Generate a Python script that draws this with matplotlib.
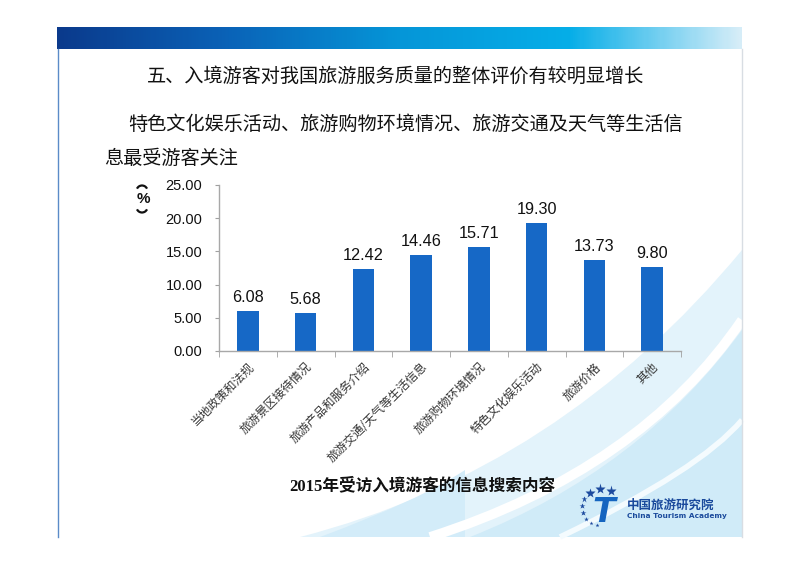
import numpy as np
import matplotlib.pyplot as plt
import matplotlib.transforms as mtransforms
from matplotlib.colors import LinearSegmentedColormap
from matplotlib.path import Path
from matplotlib.patches import PathPatch, Arc

plt.rcParams['font.family'] = ['Noto Sans CJK SC', 'DejaVu Sans']

# chart data
categories = ['当地政策和法规', '旅游景区接待情况', '旅游产品和服务介绍', '旅游交通/天气等生活信息',
              '旅游购物环境情况', '特色文化娱乐活动', '旅游价格', '其他']
bar_heights = [6.08, 5.68, 12.42, 14.46, 15.71, 19.30, 13.73, 12.65]
value_labels = ['6.08', '5.68', '12.42', '14.46', '15.71', '19.30', '13.73', '9.80']
y_ticks = [0, 5, 10, 15, 20, 25]

title = '五、入境游客对我国旅游服务质量的整体评价有较明显增长'
sub1 = '特色文化娱乐活动、旅游购物环境情况、旅游交通及天气等生活信'
sub2 = '息最受游客关注'
caption = '2015年受访入境游客的信息搜索内容'

W, H = 800, 565
fig = plt.figure(figsize=(W / 100, H / 100), dpi=100)

# --- slide background, in pixel coordinates ---
bg = fig.add_axes([0, 0, 1, 1])
bg.set_xlim(0, W)
bg.set_ylim(H, 0)
bg.axis('off')

band_cmap = LinearSegmentedColormap.from_list(
    'band', ['#0b3a8c', '#0a63b8', '#0596d8', '#06aee8', '#d6edf8'])
grad = np.linspace(0, 1, 300).reshape(1, -1)
bg.imshow(grad, cmap=band_cmap, extent=(57, 742, 49, 27), aspect='auto', zorder=1)

# light blue swooshes in the lower right
def swoosh(pts, color, alpha=1.0, z=0.5):
    codes = [Path.MOVETO, Path.CURVE3, Path.CURVE3] + [Path.LINETO] * (len(pts) - 3)
    bg.add_patch(PathPatch(Path(pts, codes), facecolor=color, edgecolor='none',
                           alpha=alpha, zorder=z))

swoosh([(300, 537), (560, 470), (742, 250), (742, 537)], '#e3f3fb')
swoosh([(320, 537), (420, 500), (465, 470), (465, 537)], '#d3ecf9')
swoosh([(470, 537), (640, 470), (742, 330), (742, 537)], '#d0ebf8')
bg.add_patch(PathPatch(Path([(430, 537), (640, 470), (742, 320)],
                            [Path.MOVETO, Path.CURVE3, Path.CURVE3]),
                       facecolor='none', edgecolor='white', lw=7, zorder=0.6))
bg.add_patch(PathPatch(Path([(560, 537), (700, 470), (742, 420)],
                            [Path.MOVETO, Path.CURVE3, Path.CURVE3]),
                       facecolor='none', edgecolor='#f4fbfe', lw=4, zorder=0.6))

# slide edges
bg.plot([58, 58], [49, 537], color='#5b8bc8', lw=1, zorder=2)
bg.plot([742, 742], [49, 537], color='#d8dde3', lw=1, zorder=2)

# headings
bg.text(396, 76, title, fontsize=13.8, ha='center', va='center', color='#111111',
        fontweight='medium')
bg.text(128, 124, sub1, fontsize=13.8, ha='left', va='center', color='#111111',
        fontweight='medium')
bg.text(104, 158, sub2, fontsize=13.8, ha='left', va='center', color='#111111',
        fontweight='medium')
bg.text(422, 486, caption, fontsize=12, ha='center', va='center', color='#111111',
        fontweight='bold', family=['Liberation Serif', 'Noto Sans CJK SC'])

# logo
star_x = [590, 600, 611, 584, 582, 583, 586, 591, 597]
star_y = [493, 489, 491, 499, 506, 513, 519, 523, 525]
star_s = [7, 8, 8, 5, 4, 4, 3.5, 3, 3]
for sx, sy, ss in zip(star_x, star_y, star_s):
    bg.plot(sx, sy, marker='*', ms=ss, color='#1c4a9e', mec='none', zorder=3)
bg.text(604, 512, 'T', fontsize=24, fontstyle='italic', fontweight='bold',
        color='#1565c0', ha='center', va='center', family='DejaVu Sans', zorder=3)
bg.text(627, 505, '中国旅游研究院', fontsize=9, fontweight='bold', color='#1a4a9c',
        ha='left', va='center', zorder=3)
bg.text(627, 516, 'China Tourism Academy', fontsize=5.3, fontweight='bold',
        color='#1a4a9c', ha='left', va='center', family='DejaVu Sans', zorder=3)

# --- bar chart ---
left, right, top, bottom = 219, 681, 185, 351
ax = fig.add_axes([left / W, (H - bottom) / H, (right - left) / W, (bottom - top) / H])
ax.set_facecolor('none')

x = np.arange(len(categories))
ax.bar(x, bar_heights, width=0.37, color='#1668c6', zorder=2)
for xi, h, lab in zip(x, bar_heights, value_labels):
    ax.text(xi, h + 0.9, lab, ha='center', va='bottom', fontsize=11.7,
            family='Liberation Sans', color='#111111')

ax.set_xlim(-0.5, len(categories) - 0.5)
ax.set_ylim(0, 25)
ax.set_yticks(y_ticks)
ax.set_yticklabels([f'{v:.2f}' for v in y_ticks], fontsize=10.5,
                   family='Liberation Sans', color='#111111')
ax.tick_params(axis='y', length=3, color='#a0a0a0', pad=9)

ax.set_xticks(x)
ax.set_xticklabels(categories, rotation=45, ha='right', va='center',
                   rotation_mode='anchor', fontsize=8.6, color='#333333')
ax.tick_params(axis='x', length=0, pad=10)
shift = mtransforms.ScaledTranslation(3 / 72, 0, fig.dpi_scale_trans)
for lab in ax.get_xticklabels():
    lab.set_transform(lab.get_transform() + shift)
ax.set_xticks(np.arange(len(categories) + 1) - 0.5, minor=True)
ax.tick_params(axis='x', which='minor', length=4, color='#a0a0a0')

for s in ['top', 'right']:
    ax.spines[s].set_visible(False)
for s in ['left', 'bottom']:
    ax.spines[s].set_color('#a8a8a8')
    ax.spines[s].set_linewidth(1)

# vertical "(%)" unit label, brackets drawn as arcs
bg.add_patch(Arc((142, 191), 11, 11, theta1=205, theta2=335, lw=1.6, color='#111111'))
bg.text(143, 199, '%', fontsize=11, fontweight='bold', ha='center',
        va='center', family='Liberation Sans', color='#111111')
bg.add_patch(Arc((142, 207), 11, 11, theta1=25, theta2=155, lw=1.6, color='#111111'))

fig.savefig('out.png', dpi=100)
